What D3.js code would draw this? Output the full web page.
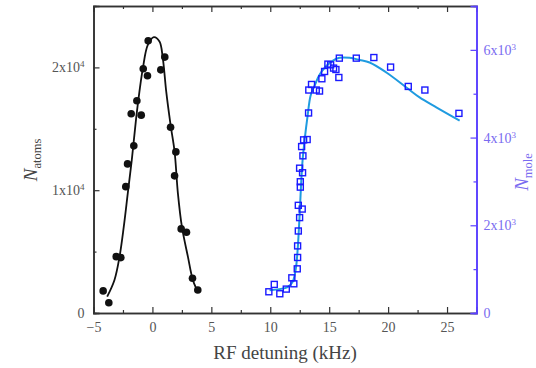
<!DOCTYPE html>
<html><head><meta charset="utf-8">
<script src="https://cdn.jsdelivr.net/npm/d3@7"></script>
<style>body{margin:0;background:#fff}svg{display:block}</style>
</head><body>
<svg id="c" width="536" height="368"></svg>
<script>
// Atoms (black filled circles): RF detuning (kHz), N_atoms
const atomX = [-4.18,-3.70,-3.07,-2.68,-2.26,-2.11,-1.58,-1.80,-1.32,-0.95,-0.78,-0.42,-0.36,0.71,1.05,1.54,1.99,1.88,2.44,2.89,3.40,3.85];
const atomY = [1800,840,4590,4510,10290,12140,13610,16220,17280,16110,19890,19320,22170,19800,20840,15130,13120,11170,6850,6580,2830,1870];
// Atom fit curve
const atomFitX = [-3.84,-3.22,-2.79,-2.43,-2.09,-1.75,-1.38,-1.10,-0.81,-0.39,0.12,0.60,0.88,1.17,1.54,1.88,2.16,2.50,3.01,3.43,3.85];
const atomFitY = [1330,2690,4590,7030,9760,12470,15870,18040,19940,21840,22470,22110,20760,18040,15320,13150,9760,7030,4590,2690,1740];
// Molecules (blue open squares)
const moleX = [9.88,10.34,10.81,11.36,11.83,12.00,12.29,12.32,12.32,12.38,12.49,12.38,12.71,12.55,12.55,12.49,12.74,12.77,12.66,12.83,13.13,13.25,13.27,13.50,13.90,14.18,14.38,14.61,14.89,15.12,15.37,15.57,15.82,15.86,17.30,18.79,20.21,21.71,23.12,26.01];
const moleY = [484,652,439,545,802,666,1007,1266,1530,1870,2175,2455,2370,2870,2993,3302,3198,3584,3795,3948,3955,4561,5084,5211,5084,5061,5341,5507,5675,5659,5584,5552,5370,5811,5811,5825,5607,5166,5084,4552];
// Molecule fit curve
const moleFitX = [9.94,11.47,11.89,12.15,12.32,12.49,12.61,12.74,12.91,13.17,13.42,13.76,14.18,14.69,15.29,15.88,16.73,17.58,18.43,19.85,21.55,22.67,24.09,26.07];
const moleFitY = [520,590,705,977,1432,2227,2909,3477,3932,4500,4955,5182,5432,5614,5750,5818,5818,5770,5711,5484,5143,4916,4689,4386];
// Ticks
const xTicks = [-5,0,5,10,15,20,25];
const xMinor = [-2.5,2.5,7.5,12.5,17.5,22.5];
const leftTicks = [0,10000,20000];
const leftTickLabels = ["0","1x10","2x10"];
const leftMinor = [5000,15000];
const rightTicks = [0,2000,4000,6000];
const rightTickLabels = ["0","2x10","4x10","6x10"];
const rightMinor = [1000,3000,5000];

const L = 93.5, R = 476.5, T = 6, B = 313;
const svg = d3.select("#c");
const x = d3.scaleLinear().domain([-5,27.5]).range([L,R]);
const yL = d3.scaleLinear().domain([0,25000]).range([B,T]);
const yR = d3.scaleLinear().domain([0,7000]).range([B,T]);
const serif = "Liberation Serif";
const frame = "#333", labelGray = "#555", violet = "#5a40ff", violetLight = "#7a6cf0";

// Fit curves
const line = (xs, ys, ys_scale) => d3.line().curve(d3.curveCatmullRom.alpha(0.5))
  .x(i => x(xs[i])).y(i => ys_scale(ys[i]))(d3.range(xs.length));
svg.append("path").attr("d", line(atomFitX, atomFitY, yL)).attr("fill","none").attr("stroke","#111").attr("stroke-width",1.8);
svg.append("path").attr("d", line(moleFitX, moleFitY, yR)).attr("fill","none").attr("stroke","#1f9be0").attr("stroke-width",2);

// Points
svg.append("g").selectAll("circle").data(d3.range(atomX.length)).join("circle")
  .attr("cx", i => x(atomX[i])).attr("cy", i => yL(atomY[i])).attr("r", 3.8).attr("fill","#111");
svg.append("g").selectAll("rect").data(d3.range(moleX.length)).join("rect")
  .attr("x", i => x(moleX[i]) - 3).attr("y", i => yR(moleY[i]) - 3)
  .attr("width", 6).attr("height", 6).attr("fill","none").attr("stroke","#1a1aff").attr("stroke-width",1.4);

// Axes
const gB = svg.append("g").attr("transform", `translate(0,${B})`)
  .call(d3.axisBottom(x).tickValues(xTicks).tickSize(-6).tickPadding(9).tickFormat(d3.format("d")));
const gBm = svg.append("g").attr("transform", `translate(0,${B})`)
  .call(d3.axisBottom(x).tickValues(xMinor).tickSize(-3).tickFormat(""));
const gT = svg.append("g").attr("transform", `translate(0,${T})`)
  .call(d3.axisTop(x).tickValues(xTicks).tickSize(-6).tickFormat(""));
const gTm = svg.append("g").attr("transform", `translate(0,${T})`)
  .call(d3.axisTop(x).tickValues(xMinor).tickSize(-3).tickFormat(""));
const gL = svg.append("g").attr("transform", `translate(${L},0)`)
  .call(d3.axisLeft(yL).tickValues(leftTicks).tickSize(-6).tickPadding(9).tickFormat((d,i) => leftTickLabels[i]));
const gLm = svg.append("g").attr("transform", `translate(${L},0)`)
  .call(d3.axisLeft(yL).tickValues(leftMinor).tickSize(-3).tickFormat(""));
const gR = svg.append("g").attr("transform", `translate(${R},0)`)
  .call(d3.axisRight(yR).tickValues(rightTicks).tickSize(-6).tickPadding(7).tickFormat((d,i) => rightTickLabels[i]));
const gRm = svg.append("g").attr("transform", `translate(${R},0)`)
  .call(d3.axisRight(yR).tickValues(rightMinor).tickSize(-3).tickFormat(""));

[gB,gBm,gT,gTm,gL,gLm,gR,gRm].forEach(g => g.attr("font-family", serif));
[gB,gBm,gT,gTm,gL,gLm].forEach(g => {
  g.selectAll("path.domain").attr("stroke", frame).attr("stroke-width",1.6);
  g.selectAll(".tick line").attr("stroke", frame).attr("stroke-width",1.2);
  g.selectAll("text").attr("font-size",14).attr("fill",labelGray);
});
[gR,gRm].forEach(g => {
  g.selectAll("path.domain").attr("stroke", violet).attr("stroke-width",1.6);
  g.selectAll(".tick line").attr("stroke", violet).attr("stroke-width",1.2);
  g.selectAll("text").attr("font-size",14).attr("fill",violetLight);
});
// superscripts on y tick labels
gL.selectAll(".tick text").each(function(d){
  if (d > 0) d3.select(this).append("tspan").attr("dy",-5).attr("font-size",9).text("4");
});
gR.selectAll(".tick text").each(function(d){
  if (d > 0) d3.select(this).append("tspan").attr("dy",-5).attr("font-size",9).text("3");
});

// Axis titles
svg.append("text").attr("x", 285).attr("y", 359).attr("text-anchor","middle")
  .attr("font-family", serif).attr("font-size",19).attr("fill","#444").text("RF detuning (kHz)");
const tl = svg.append("text").attr("transform","translate(37,160) rotate(-90)").attr("text-anchor","middle")
  .attr("font-family", serif).attr("fill","#444");
tl.append("tspan").attr("font-size",19).attr("font-style","italic").text("N");
tl.append("tspan").attr("font-size",12.5).attr("dy",4).text("atoms");
const tr = svg.append("text").attr("transform","translate(528,172) rotate(-90)").attr("text-anchor","middle")
  .attr("font-family", serif).attr("fill",violetLight);
tr.append("tspan").attr("font-size",19).attr("font-style","italic").text("N");
tr.append("tspan").attr("font-size",12.5).attr("dy",4).text("mole");
</script>
</body></html>
